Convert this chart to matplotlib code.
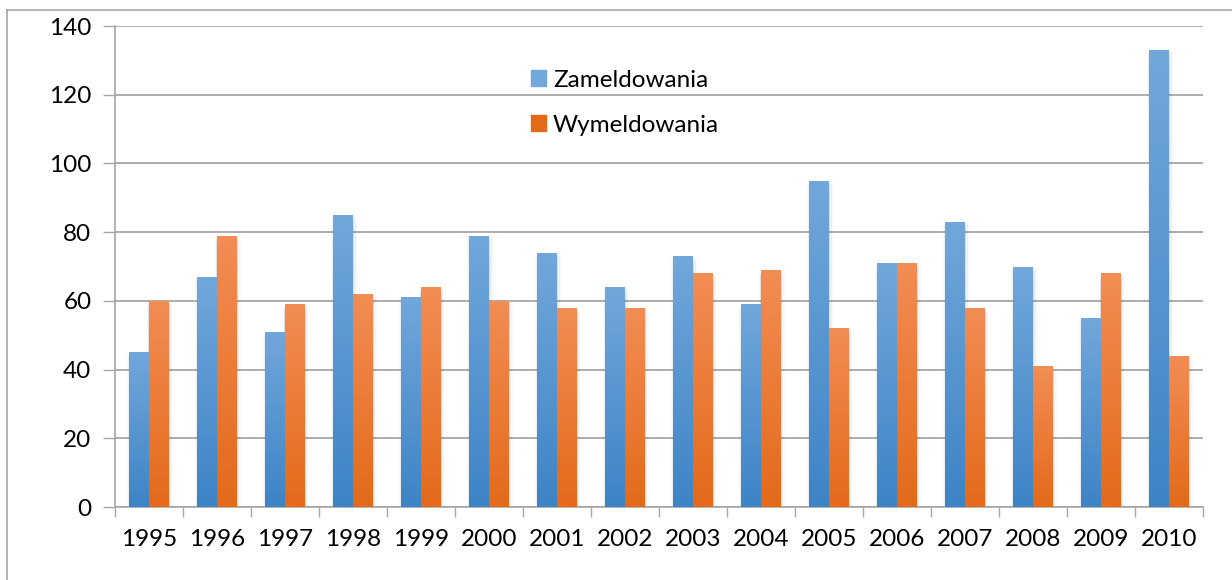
import numpy as np
import matplotlib
matplotlib.use("Agg")
import matplotlib.pyplot as plt
from matplotlib.patches import Rectangle
from matplotlib.lines import Line2D
from matplotlib.colors import LinearSegmentedColormap

plt.rcParams['font.family'] = ['Lato', 'DejaVu Sans']

years = ["1995", "1996", "1997", "1998", "1999", "2000", "2001", "2002",
         "2003", "2004", "2005", "2006", "2007", "2008", "2009", "2010"]
zameldowania = [45, 67, 51, 85, 61, 79, 74, 64, 73, 59, 95, 71, 83, 70, 55, 133]
wymeldowania = [60, 79, 59, 62, 64, 60, 58, 58, 68, 69, 52, 71, 58, 41, 68, 44]
series_names = ["Zameldowania", "Wymeldowania"]

blue_top, blue_bot = "#72a7db", "#3d84c6"
orange_top, orange_bot = "#f28d55", "#e36a19"

fig = plt.figure(figsize=(12.32, 5.8), dpi=100)
ax = fig.add_axes([115/1232, 1-507/580, (1203-115)/1232, (507-26)/580])

x = np.arange(len(years))
w = 0.29
b1 = ax.bar(x - w/2, zameldowania, w, color=blue_bot, zorder=3)
b2 = ax.bar(x + w/2, wymeldowania, w, color=orange_bot, zorder=3)

def shade(bars, top, bot):
    cmap = LinearSegmentedColormap.from_list("g", [bot, top])
    for p in bars:
        x0, y0 = p.get_x(), p.get_y()
        pw, ph = p.get_width(), p.get_height()
        # soft shadow on the sides
        for k, a in enumerate([0.06, 0.04, 0.025]):
            d = 0.02 + k*0.02
            ax.add_patch(Rectangle((x0 - d*0.5, y0), pw + d*1.5, ph - 1.5 + k*0.6,
                                   color="black", alpha=a, lw=0, zorder=2))
        grad = np.linspace(0, 1, 256).reshape(-1, 1)
        im = ax.imshow(grad, cmap=cmap, origin="lower", aspect="auto",
                       extent=(x0, x0 + pw, y0, y0 + ph), zorder=4)
        im.set_clip_path(p)

shade(b1, blue_top, blue_bot)
shade(b2, orange_top, orange_bot)

ax.set_xlim(-0.5, len(years) - 0.5)
ax.set_ylim(0, 140)
ax.set_yticks(range(0, 141, 20))
ax.set_xticks(x)
ax.set_xticklabels(years)
ax.set_xticks(np.arange(-0.5, len(years)), minor=True)
ax.tick_params(axis="x", which="major", length=0, pad=16, labelsize=17.5)
ax.tick_params(axis="x", which="minor", length=7, color="#a6a6a6", width=1)
ax.tick_params(axis="y", length=9, color="#a6a6a6", width=1, pad=8, labelsize=17.5)
ax.grid(axis="y", color="#a0a0a0", lw=1.2, zorder=0)
for s in ["top", "right"]:
    ax.spines[s].set_visible(False)
for s in ["left", "bottom"]:
    ax.spines[s].set_color("#a6a6a6")
    ax.spines[s].set_linewidth(1.2)

handles = [Rectangle((0, 0), 1, 1, color=blue_top), Rectangle((0, 0), 1, 1, color=orange_bot)]
leg = ax.legend(handles, series_names, loc="upper left", bbox_to_anchor=(0.362, 0.955),
                frameon=False, fontsize=17.5, handlelength=0.62, handleheight=0.62,
                handletextpad=0.3, labelspacing=1.0)
leg.set_zorder(6)

# outer chart border
fig.add_artist(Line2D([7/1232, 7/1232], [0, 1-10/580], color="#a6a6a6", lw=1.2))
fig.add_artist(Line2D([7/1232, 1], [1-10/580, 1-10/580], color="#a6a6a6", lw=1.2))

fig.savefig("out.png", dpi=100)
